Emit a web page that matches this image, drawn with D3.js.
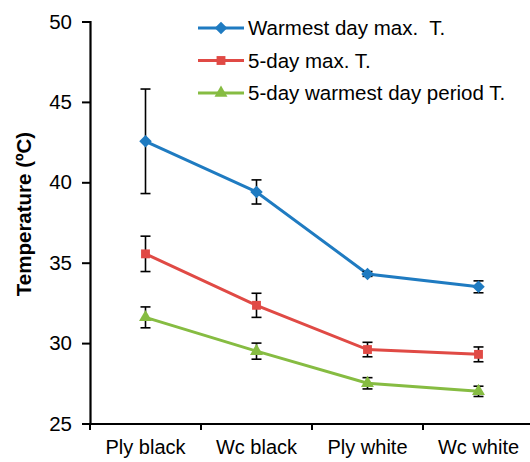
<!DOCTYPE html>
<html>
<head>
<meta charset="utf-8">
<script src="https://cdn.jsdelivr.net/npm/d3@7"></script>
<style>
  html, body { margin: 0; padding: 0; background: #fff; }
  svg { display: block; font-family: "Liberation Sans", Arial, sans-serif; }
</style>
</head>
<body>
<svg id="chart" width="530" height="462"></svg>
<script>
// Categories and series (mean temperature and error half-width, °C)
const categories = ["Ply black", "Wc black", "Ply white", "Wc white"];
const seriesNames = ["Warmest day max.  T.", "5-day max. T.", "5-day warmest day period T."];
const warmestDayMax = [42.55, 39.4, 34.3, 33.5];
const warmestDayMaxErr = [3.25, 0.75, 0.15, 0.37];
const fiveDayMax = [35.55, 32.35, 29.6, 29.3];
const fiveDayMaxErr = [1.1, 0.75, 0.45, 0.46];
const fiveDayPeriod = [31.6, 29.5, 27.5, 27.0];
const fiveDayPeriodErr = [0.65, 0.5, 0.35, 0.32];
const yTicks = [25, 30, 35, 40, 45, 50];
const colors = ["#1f7bc1", "#e04a45", "#86bc42"];
const markers = [d3.symbolDiamond2, d3.symbolSquare2, d3.symbolTriangle2];

const series = [
  { name: seriesNames[0], values: warmestDayMax, errs: warmestDayMaxErr },
  { name: seriesNames[1], values: fiveDayMax, errs: fiveDayMaxErr },
  { name: seriesNames[2], values: fiveDayPeriod, errs: fiveDayPeriodErr }
];

const svg = d3.select("#chart");
const x = d3.scaleBand().domain(categories).range([90, 534]);
const y = d3.scaleLinear().domain([25, 50]).range([423.5, 21.5]);

// Y axis
const yAxis = svg.append("g")
  .attr("transform", "translate(90,0)")
  .call(d3.axisLeft(y).tickValues(yTicks).tickSize(8).tickPadding(10).tickFormat(d3.format("d")));
yAxis.select(".domain").attr("stroke", "#000").attr("stroke-width", 2.2);
yAxis.selectAll(".tick line").attr("stroke", "#000").attr("stroke-width", 2);
yAxis.selectAll(".tick text").attr("font-size", 20.5).attr("fill", "#000")
  .attr("font-family", "'Liberation Sans', Arial, sans-serif");

// X axis with ticks at category boundaries
const xAxisG = svg.append("g").attr("transform", "translate(0,424)");
xAxisG.append("line").attr("x1", 90).attr("x2", 534).attr("stroke", "#000").attr("stroke-width", 2.2);
xAxisG.selectAll("line.bound")
  .data(categories)
  .join("line")
  .attr("class", "bound")
  .attr("x1", d => x(d)).attr("x2", d => x(d))
  .attr("y1", 0).attr("y2", 6)
  .attr("stroke", "#000").attr("stroke-width", 2);
xAxisG.selectAll("text")
  .data(categories)
  .join("text")
  .attr("x", d => x(d) + x.bandwidth() / 2)
  .attr("y", 30)
  .attr("text-anchor", "middle")
  .attr("font-size", 20)
  .attr("fill", "#000")
  .text(d => d);

// Y axis title
svg.append("text")
  .attr("transform", "translate(31,214) rotate(-90)")
  .attr("text-anchor", "middle")
  .attr("font-size", 20.5)
  .attr("font-weight", "bold")
  .attr("fill", "#000")
  .text("Temperature (ºC)");

const cx = c => x(c) + x.bandwidth() / 2;
const line = d3.line().x((d, i) => cx(categories[i])).y(d => y(d));

series.forEach((s, k) => {
  const g = svg.append("g");
  g.append("path")
    .datum(s.values)
    .attr("d", line)
    .attr("fill", "none")
    .attr("stroke", colors[k])
    .attr("stroke-width", 3);

  // Error bars
  const eb = g.selectAll("g.err")
    .data(s.values.map((v, i) => ({ v, e: s.errs[i], c: categories[i] })))
    .join("g").attr("class", "err");
  eb.append("line")
    .attr("x1", d => cx(d.c)).attr("x2", d => cx(d.c))
    .attr("y1", d => y(d.v + d.e)).attr("y2", d => y(d.v - d.e))
    .attr("stroke", "#000").attr("stroke-width", 1.6);
  [1, -1].forEach(sign => {
    eb.append("line")
      .attr("x1", d => cx(d.c) - 5).attr("x2", d => cx(d.c) + 5)
      .attr("y1", d => y(d.v + sign * d.e)).attr("y2", d => y(d.v + sign * d.e))
      .attr("stroke", "#000").attr("stroke-width", 1.6);
  });

  // Markers
  g.selectAll("path.mk")
    .data(s.values)
    .join("path")
    .attr("class", "mk")
    .attr("transform", (d, i) => `translate(${cx(categories[i])},${y(d)})`)
    .attr("d", d3.symbol().type(markers[k]).size(k === 2 ? 120 : 100))
    .attr("fill", colors[k])
    .attr("stroke", "none");
});

// Legend
const legend = svg.append("g");
series.forEach((s, k) => {
  const ly = 28 + k * 32.5;
  legend.append("line")
    .attr("x1", 198).attr("x2", 244).attr("y1", ly).attr("y2", ly)
    .attr("stroke", colors[k]).attr("stroke-width", 3);
  legend.append("path")
    .attr("transform", `translate(221,${ly})`)
    .attr("d", d3.symbol().type(markers[k]).size(k === 2 ? 120 : 100))
    .attr("fill", colors[k]);
  legend.append("text")
    .attr("x", 248).attr("y", ly)
    .attr("dy", "0.35em")
    .attr("font-size", 20.5)
    .attr("fill", "#000")
    .attr("xml:space", "preserve")
    .text(s.name);
});
</script>
</body>
</html>
